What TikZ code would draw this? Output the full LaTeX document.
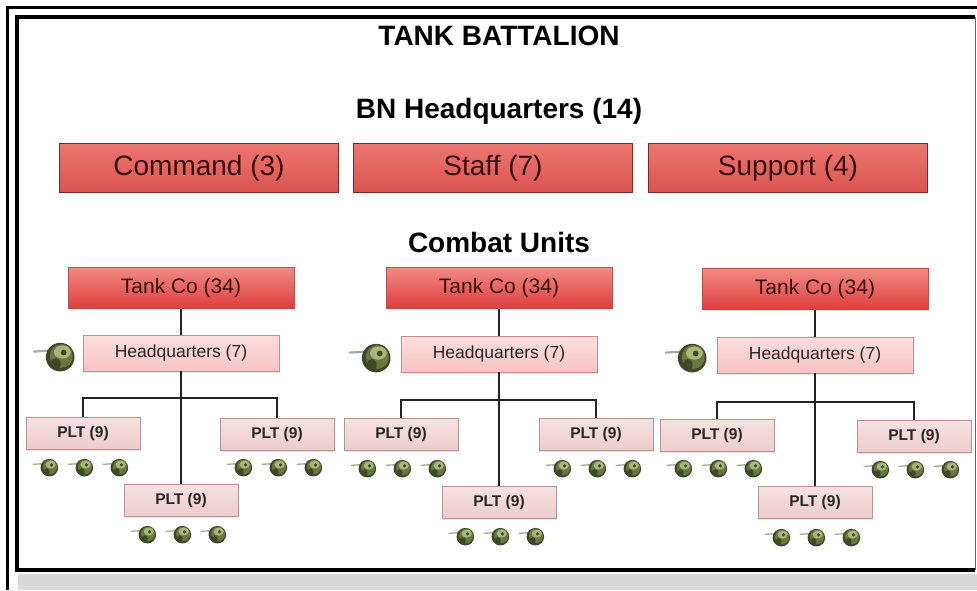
\documentclass[tikz,border=0pt]{standalone}
\usepackage{fontspec}
\setmainfont{Liberation Sans}
\usetikzlibrary{shadows}
\definecolor{bn_top}{RGB}{236, 118, 112}
\definecolor{bn_bot}{RGB}{218, 84, 80}
\definecolor{bn_line}{RGB}{115, 42, 42}
\definecolor{bn_text}{RGB}{55, 12, 12}
\definecolor{co_top}{RGB}{242, 138, 132}
\definecolor{co_bot}{RGB}{222, 62, 60}
\definecolor{co_line}{RGB}{185, 80, 80}
\definecolor{hq_top}{RGB}{252, 222, 222}
\definecolor{hq_bot}{RGB}{248, 196, 196}
\definecolor{hq_line}{RGB}{200, 140, 140}
\definecolor{plt_top}{RGB}{246, 226, 226}
\definecolor{plt_bot}{RGB}{238, 204, 204}
\definecolor{plt_line}{RGB}{185, 145, 145}
\definecolor{link_col}{RGB}{35, 35, 35}
\definecolor{tank_dark}{RGB}{62, 72, 38}
\definecolor{tank_mid}{RGB}{104, 118, 64}
\definecolor{tank_light}{RGB}{168, 182, 120}
\definecolor{barrel_gray}{RGB}{170, 170, 160}
\definecolor{strip_gray}{RGB}{218, 216, 216}
\newcommand{\tankbody}[1]{%
  \begin{scope}[shift={(path picture bounding box.center)}, x=#1pt, y=#1pt]
    \draw [barrel_gray, line width=#1pt, line cap=round] (-3,2.5) -- (-11,2);
    \fill [tank_dark] (1,-0.5) ellipse [x radius=6.5, y radius=6.5];
    \fill [tank_mid] (1.5,0) ellipse [x radius=5.2, y radius=5.4];
    \fill [tank_light] (2,1.8) ellipse [x radius=3.8, y radius=3];
    \fill [tank_dark] (-1,-3.5) ellipse [x radius=2.2, y radius=2.6];
    \fill [tank_dark] (2.6,1.6) circle [radius=1.3];
  \end{scope}}
\tikzstyle{head}=[anchor=base,inner sep=0pt,font=\fontsize{28}{32}\selectfont\bfseries]
\tikzstyle{bn}=[rectangle,top color=bn_top,bottom color=bn_bot,draw=bn_line,
  line width=1.6pt,minimum width=279pt,minimum height=49pt,text=bn_text,
  font=\fontsize{28}{32}\selectfont]
\tikzstyle{co}=[rectangle,top color=co_top,bottom color=co_bot,draw=co_line,
  line width=0.8pt,minimum width=226pt,minimum height=41pt,text=bn_text,
  font=\fontsize{21}{24}\selectfont,
  drop shadow={shadow xshift=1pt,shadow yshift=-1.5pt,opacity=0.25}]
\tikzstyle{hq}=[rectangle,top color=hq_top,bottom color=hq_bot,draw=hq_line,
  line width=0.8pt,minimum width=196pt,minimum height=36pt,text=black!85,
  font=\fontsize{17.5}{20}\selectfont,
  drop shadow={shadow xshift=1pt,shadow yshift=-1.5pt,opacity=0.2}]
\tikzstyle{plt}=[rectangle,top color=plt_top,bottom color=plt_bot,draw=plt_line,
  line width=0.8pt,minimum width=114pt,minimum height=32pt,text=black!85,
  font=\fontsize{15.5}{18}\selectfont\bfseries,
  drop shadow={shadow xshift=1pt,shadow yshift=-1.5pt,opacity=0.2}]
\tikzstyle{tank}=[inner sep=0pt,minimum width=34pt,minimum height=24pt,
  path picture={\tankbody{1.35}}]
\tikzstyle{bigtank}=[inner sep=0pt,minimum width=54pt,minimum height=38pt,
  path picture={\tankbody{2.2}}]
\tikzstyle{link}=[draw=link_col,line width=1.6pt]

\begin{document}
\begin{tikzpicture}[x=1pt, y=-1pt]
            \useasboundingbox (0,0) rectangle (977,590);
            \fill [white] (0,0) rectangle (977,590);
            \fill [strip_gray] (18,574) rectangle (977,590);
            \draw [line width=3pt] (7,590) -- (7,7) -- (977,7);
            \draw [line width=3.5pt] (975,17) -- (17,17) -- (17,570) -- (975,570);
            \draw [line width=1pt, black!60] (975,17) -- (975,570);
            % battalion
            \node [style=head] (title) at (499,45) {TANK BATTALION};
            \node [style=head] (bnhq) at (499,118) {BN Headquarters (14)};
            \node [style=bn] (cmd) at (199,168) {Command (3)};
            \node [style=bn] (staff) at (493,168) {Staff (7)};
            \node [style=bn] (sup) at (788,168) {Support (4)};
            \node [style=head] (combat) at (499,252) {Combat Units};
            % levo
            \node [style=co] (co1) at (181,288) {Tank Co (34)};
            \node [style=hq] (hq1) at (181,353) {Headquarters (7)};
            \node [style=plt] (p1l) at (83,433) {PLT (9)};
            \node [style=plt] (p1r) at (277,434) {PLT (9)};
            \node [style=plt] (p1m) at (181,500) {PLT (9)};
            \coordinate (b1) at (181,398);
            \node [style=bigtank] (h1) at (58,356) {};
            \node [style=tank] (t1a) at (48,467) {};
            \node [style=tank] (t1b) at (83,467) {};
            \node [style=tank] (t1c) at (118,467) {};
            \node [style=tank] (t1d) at (242,467) {};
            \node [style=tank] (t1e) at (277,467) {};
            \node [style=tank] (t1f) at (312,467) {};
            \node [style=tank] (t1g) at (146,534) {};
            \node [style=tank] (t1h) at (181,534) {};
            \node [style=tank] (t1i) at (216,534) {};
            % sredina
            \node [style=co] (co2) at (499,288) {Tank Co (34)};
            \node [style=hq] (hq2) at (499,354) {Headquarters (7)};
            \node [style=plt] (p2l) at (401,434) {PLT (9)};
            \node [style=plt] (p2r) at (596,434) {PLT (9)};
            \node [style=plt] (p2m) at (499,502) {PLT (9)};
            \coordinate (b2) at (499,400);
            \node [style=bigtank] (h2) at (374,357) {};
            \node [style=tank] (t2a) at (366,468) {};
            \node [style=tank] (t2b) at (401,468) {};
            \node [style=tank] (t2c) at (436,468) {};
            \node [style=tank] (t2d) at (561,468) {};
            \node [style=tank] (t2e) at (596,468) {};
            \node [style=tank] (t2f) at (631,468) {};
            \node [style=tank] (t2g) at (464,536) {};
            \node [style=tank] (t2h) at (499,536) {};
            \node [style=tank] (t2i) at (534,536) {};
            % desno
            \node [style=co] (co3) at (815,289) {Tank Co (34)};
            \node [style=hq] (hq3) at (815,355) {Headquarters (7)};
            \node [style=plt] (p3l) at (717,435) {PLT (9)};
            \node [style=plt] (p3r) at (914,436) {PLT (9)};
            \node [style=plt] (p3m) at (815,502) {PLT (9)};
            \coordinate (b3) at (815,402);
            \node [style=bigtank] (h3) at (690,357) {};
            \node [style=tank] (t3a) at (682,468) {};
            \node [style=tank] (t3b) at (717,468) {};
            \node [style=tank] (t3c) at (752,468) {};
            \node [style=tank] (t3d) at (879,469) {};
            \node [style=tank] (t3e) at (914,469) {};
            \node [style=tank] (t3f) at (949,469) {};
            \node [style=tank] (t3g) at (780,537) {};
            \node [style=tank] (t3h) at (815,537) {};
            \node [style=tank] (t3i) at (850,537) {};
            \draw [style=link] (co1) to (hq1);
            \draw [style=link] (hq1) to (p1m);
            \draw [style=link] (p1l) |- (b1) -| (p1r);
            \draw [style=link] (co2) to (hq2);
            \draw [style=link] (hq2) to (p2m);
            \draw [style=link] (p2l) |- (b2) -| (p2r);
            \draw [style=link] (co3) to (hq3);
            \draw [style=link] (hq3) to (p3m);
            \draw [style=link] (p3l) |- (b3) -| (p3r);
    \end{tikzpicture}
\end{document}
